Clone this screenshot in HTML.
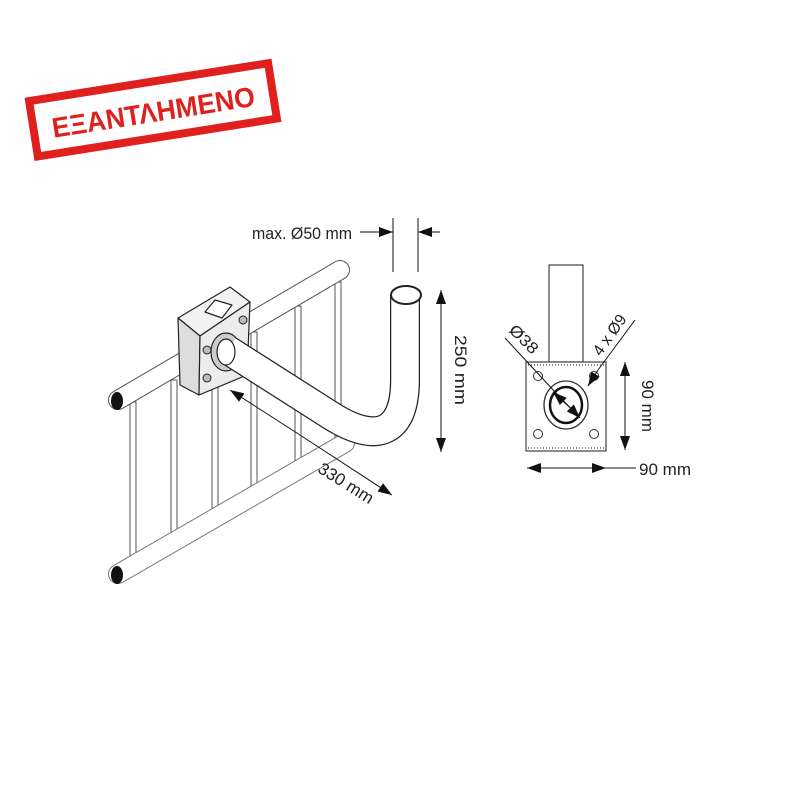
<!DOCTYPE html>
<html><head><meta charset="utf-8"><style>
html,body{margin:0;padding:0;background:#fff;}
svg{display:block;}
text{font-family:"Liberation Sans Narrow","Liberation Sans",sans-serif;fill:#222;}
</style></head><body>
<svg width="800" height="800" viewBox="0 0 800 800" xmlns="http://www.w3.org/2000/svg">
<defs>
<marker id="ah" viewBox="0 0 14 10" refX="14" refY="5" markerWidth="14" markerHeight="10" markerUnits="userSpaceOnUse" orient="auto"><path d="M0,0 L14,5 L0,10 Z" fill="#111"/></marker>
</defs>
<!-- stamp -->
<g transform="rotate(-9 152 110)">
<rect x="32" y="82" width="242" height="56" fill="none" stroke="#e0201e" stroke-width="8"/>
<text x="153" y="122" text-anchor="middle" font-size="28" font-weight="bold" style="font-family:'Liberation Sans',sans-serif;fill:#e0201e" textLength="205" lengthAdjust="spacingAndGlyphs">ΕΞΑΝΤΛΗΜΕΝΟ</text>
</g>

<!-- railing bars -->
<g stroke="#555" stroke-width="1" fill="#fff">
<rect x="130" y="402" width="6" height="160"/>
<rect x="171" y="380" width="6" height="158"/>
<rect x="212" y="355" width="6" height="160"/>
<rect x="251" y="332" width="6" height="160"/>
<rect x="295" y="306" width="6" height="160"/>
<rect x="335" y="282" width="6" height="160"/>
</g>
<!-- rails -->
<g stroke-linecap="round">
<line x1="118" y1="400" x2="340" y2="270" stroke="#555" stroke-width="20"/>
<line x1="118" y1="400" x2="340" y2="270" stroke="#fff" stroke-width="18"/>
<line x1="118" y1="574" x2="345" y2="443" stroke="#777" stroke-width="20"/>
<line x1="118" y1="574" x2="345" y2="443" stroke="#fff" stroke-width="18"/>
</g>
<ellipse cx="117" cy="401" rx="6" ry="9" fill="#111"/>
<ellipse cx="117" cy="575" rx="6" ry="9" fill="#111"/>

<!-- bracket block -->
<g stroke="#222" stroke-width="1.2" fill="#eee" stroke-linejoin="round">
<path d="M178,318 L230,287 L250,302 L200,336 Z" fill="#f2f2f2"/>
<path d="M178,318 L200,336 L199,395 L180,385 Z" fill="#ddd"/>
<path d="M200,336 L250,302 L247,375 L199,395 Z" fill="#ececec"/>
<path d="M205,312 L215,300 L232,305 L222,318 Z" fill="#fff"/>
</g>
<circle cx="207" cy="350" r="4" fill="#bbb" stroke="#222"/>
<circle cx="243" cy="320" r="4" fill="#bbb" stroke="#222"/>
<circle cx="207" cy="378" r="4" fill="#bbb" stroke="#222"/>
<ellipse cx="226" cy="352" rx="15" ry="19" fill="#ccc" stroke="#222" stroke-width="1.2"/>

<!-- tube -->
<path d="M228,350 L330,415 C380,447 405,430 405,380 L405,295" fill="none" stroke="#222" stroke-width="30"/>
<path d="M228,350 L330,415 C380,447 405,430 405,380 L405,295" fill="none" stroke="#fff" stroke-width="27.5"/>
<ellipse cx="226" cy="352" rx="9" ry="13" fill="#fff" stroke="#222" stroke-width="1.2"/>
<ellipse cx="406" cy="295" rx="15" ry="9" fill="#fff" stroke="#222" stroke-width="2"/>

<!-- max Ø50 -->
<text x="252" y="239" font-size="17" textLength="100" lengthAdjust="spacingAndGlyphs">max. Ø50 mm</text>
<g stroke="#111" stroke-width="1">
<line x1="393" y1="218" x2="393" y2="272"/>
<line x1="418" y1="218" x2="418" y2="272"/>
<line x1="360" y1="232" x2="393" y2="232" marker-end="url(#ah)"/>
<line x1="440" y1="232" x2="418" y2="232" marker-end="url(#ah)"/>
<!-- 250 -->
<line x1="441" y1="320" x2="441" y2="290" marker-end="url(#ah)"/>
<line x1="441" y1="400" x2="441" y2="452" marker-end="url(#ah)"/>
<line x1="441" y1="300" x2="441" y2="440"/>
<!-- 330 -->
<line x1="300" y1="435" x2="230" y2="390" marker-end="url(#ah)"/>
<line x1="300" y1="435" x2="392" y2="495" marker-end="url(#ah)"/>
</g>
<text transform="translate(455 370) rotate(90)" font-size="17" text-anchor="middle" textLength="70" lengthAdjust="spacingAndGlyphs">250 mm</text>
<text transform="translate(343 488) rotate(32)" font-size="17" text-anchor="middle" textLength="62" lengthAdjust="spacingAndGlyphs">330 mm</text>

<!-- right view -->
<rect x="549" y="265" width="34" height="97" fill="#fff" stroke="#444" stroke-width="1.2"/>
<rect x="526" y="362" width="80" height="89" fill="#fff" stroke="#444" stroke-width="1.2"/>
<line x1="528" y1="365" x2="604" y2="365" stroke="#888" stroke-width="2" stroke-dasharray="1,2"/>
<line x1="528" y1="448" x2="604" y2="448" stroke="#888" stroke-width="2" stroke-dasharray="1,2"/>
<ellipse cx="566" cy="405" rx="22" ry="24" fill="#fff" stroke="#333" stroke-width="1.3"/>
<ellipse cx="566" cy="405" rx="16" ry="18" fill="#fff" stroke="#111" stroke-width="2.5"/>
<g fill="#fff" stroke="#333" stroke-width="1">
<circle cx="538" cy="376" r="4.5"/><circle cx="594" cy="376" r="4.5"/>
<circle cx="538" cy="434" r="4.5"/><circle cx="594" cy="434" r="4.5"/>
</g>
<g stroke="#111" stroke-width="1">
<line x1="505" y1="338" x2="555" y2="392"/>
<line x1="578" y1="415" x2="553" y2="392" marker-end="url(#ah)"/>
<line x1="555" y1="392" x2="580" y2="418" marker-end="url(#ah)"/>
<line x1="635" y1="320" x2="598" y2="370"/>
<line x1="598" y1="370" x2="588" y2="386" marker-end="url(#ah)"/>
<line x1="625" y1="400" x2="625" y2="362" marker-end="url(#ah)"/>
<line x1="625" y1="400" x2="625" y2="450" marker-end="url(#ah)"/>
<line x1="570" y1="468" x2="527" y2="468" marker-end="url(#ah)"/>
<line x1="570" y1="468" x2="606" y2="468" marker-end="url(#ah)"/>
<line x1="606" y1="468" x2="636" y2="468"/>
</g>
<text transform="translate(520 343) rotate(45)" font-size="16" text-anchor="middle" textLength="34" lengthAdjust="spacingAndGlyphs">Ø38</text>
<text transform="translate(614 338) rotate(-55)" font-size="16" text-anchor="middle" textLength="46" lengthAdjust="spacingAndGlyphs">4 x Ø9</text>
<text transform="translate(642 406) rotate(90)" font-size="17" text-anchor="middle" textLength="52" lengthAdjust="spacingAndGlyphs">90 mm</text>
<text x="639" y="475" font-size="17" textLength="52" lengthAdjust="spacingAndGlyphs">90 mm</text>
</svg>
</body></html>
